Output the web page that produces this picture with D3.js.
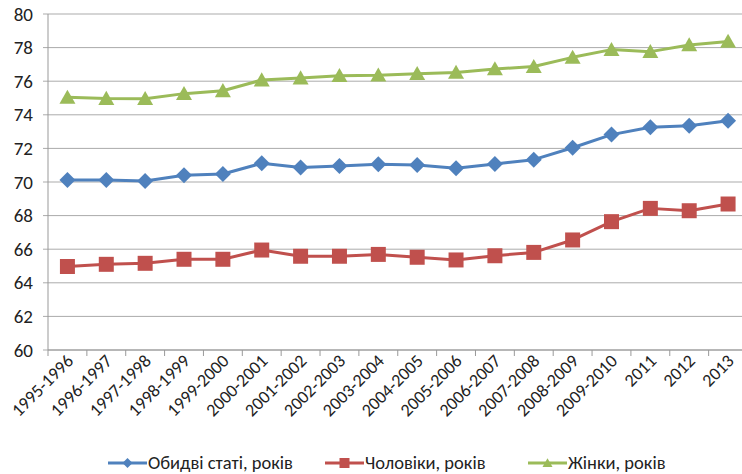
<!DOCTYPE html>
<html>
<head>
<meta charset="utf-8">
<script src="https://cdn.jsdelivr.net/npm/d3@7"></script>
<style>
  html, body { margin: 0; padding: 0; background: #fff; }
  svg { display: block; font-family: Carlito, Calibri, 'Liberation Sans', Arial, sans-serif; }
</style>
</head>
<body>
<svg id="chart" width="742" height="474"></svg>
<script>
// categories (periods)
const periods = ['1995-1996', '1996-1997', '1997-1998', '1998-1999', '1999-2000',
  '2000-2001', '2001-2002', '2002-2003', '2003-2004', '2004-2005', '2005-2006',
  '2006-2007', '2007-2008', '2008-2009', '2009-2010', '2011', '2012', '2013'];

// life expectancy, years
const both   = [70.12, 70.12, 70.06, 70.40, 70.48, 71.11, 70.87, 70.95, 71.06, 71.01,
  70.82, 71.07, 71.33, 72.04, 72.82, 73.26, 73.35, 73.65];
const men    = [64.97, 65.10, 65.16, 65.40, 65.40, 65.95, 65.58, 65.58, 65.69, 65.52,
  65.36, 65.61, 65.81, 66.55, 67.64, 68.43, 68.29, 68.69];
const women  = [75.04, 74.97, 74.96, 75.26, 75.43, 76.07, 76.19, 76.33, 76.36, 76.45,
  76.52, 76.73, 76.87, 77.42, 77.88, 77.76, 78.16, 78.37];

const yTicks = [60, 62, 64, 66, 68, 70, 72, 74, 76, 78, 80];

const seriesNames = ['Обидві статі, років', 'Чоловіки, років', 'Жінки, років'];

(function () {
  /* ---------- layout ---------- */
  const plotL = 48, plotR = 747.5, plotT = 14, plotB = 350;
  const svg = d3.select('#chart');

  const x = d3.scaleBand().domain(periods).range([plotL, plotR]);
  const y = d3.scaleLinear().domain([60, 80]).range([plotB, plotT]);

  /* ---------- grid ---------- */
  svg.append('g')
    .selectAll('line')
    .data(yTicks)
    .join('line')
    .attr('x1', plotL - 5).attr('x2', plotR)
    .attr('y1', d => y(d)).attr('y2', d => y(d))
    .attr('stroke', '#ababab')
    .attr('stroke-width', 1);

  // y axis line
  svg.append('line')
    .attr('x1', plotL).attr('x2', plotL)
    .attr('y1', plotT).attr('y2', plotB)
    .attr('stroke', '#999').attr('stroke-width', 1);

  // x axis line + ticks between categories
  svg.append('line')
    .attr('x1', plotL).attr('x2', plotR)
    .attr('y1', plotB).attr('y2', plotB)
    .attr('stroke', '#999').attr('stroke-width', 1);

  svg.append('g')
    .selectAll('line')
    .data(periods)
    .join('line')
    .attr('x1', d => x(d)).attr('x2', d => x(d))
    .attr('y1', plotB).attr('y2', plotB + 6)
    .attr('stroke', '#999').attr('stroke-width', 1);

  // y labels
  svg.append('g')
    .selectAll('text')
    .data(yTicks)
    .join('text')
    .attr('x', 33)
    .attr('y', d => y(d))
    .attr('dy', '0.35em')
    .attr('text-anchor', 'end')
    .attr('fill', '#222')
    .attr('font-size', 19)
    .text(d => d);

  // x labels, rotated
  svg.append('g')
    .selectAll('text')
    .data(periods)
    .join('text')
    .attr('transform', d => `translate(${x(d) + x.bandwidth() / 2 + 7},${plotB + 12}) rotate(-45)`)
    .attr('text-anchor', 'end')
    .attr('fill', '#222')
    .attr('font-size', 18)
    .text(d => d);

  /* ---------- series ---------- */
  const series = [
    { name: seriesNames[0], values: both,  color: '#4f81bd', shape: 'diamond' },
    { name: seriesNames[1], values: men,   color: '#c0504d', shape: 'square' },
    { name: seriesNames[2], values: women, color: '#9bbb59', shape: 'triangle' },
  ];

  const cx = (i) => x(periods[i]) + x.bandwidth() / 2;

  const line = d3.line()
    .x((d, i) => cx(i))
    .y(d => y(d));

  function markerPath(shape, size) {
    if (shape === 'square') {
      return `M${-size / 2},${-size / 2}h${size}v${size}h${-size}Z`;
    }
    if (shape === 'diamond') {
      return `M0,${-size / 2}L${size / 2},0L0,${size / 2}L${-size / 2},0Z`;
    }
    return `M0,${-size * 0.48}L${size / 2},${size * 0.4}L${-size / 2},${size * 0.4}Z`;
  }

  series.forEach(s => {
    svg.append('path')
      .datum(s.values)
      .attr('d', line)
      .attr('fill', 'none')
      .attr('stroke', s.color)
      .attr('stroke-width', 3)
      .attr('stroke-linejoin', 'round');

    svg.append('g')
      .selectAll('path')
      .data(s.values)
      .join('path')
      .attr('transform', (d, i) => `translate(${cx(i)},${y(d)})`)
      .attr('d', markerPath(s.shape, s.shape === 'square' ? 15 : 16))
      .attr('fill', s.color);
  });

  /* ---------- legend ---------- */
  const legendX = [108, 325, 528];
  const legendY = 463;
  series.forEach((s, i) => {
    const g = svg.append('g').attr('transform', `translate(${legendX[i]},${legendY})`);
    g.append('line')
      .attr('x1', 0).attr('x2', 39)
      .attr('stroke', s.color).attr('stroke-width', 3);
    g.append('path')
      .attr('transform', 'translate(19.5,0)')
      .attr('d', markerPath(s.shape, 10))
      .attr('fill', s.color);
    g.append('text')
      .attr('x', 40)
      .attr('dy', '0.35em')
      .attr('fill', '#222')
      .attr('font-size', 18.5)
      .text(s.name);
  });
})();
</script>
</body>
</html>
